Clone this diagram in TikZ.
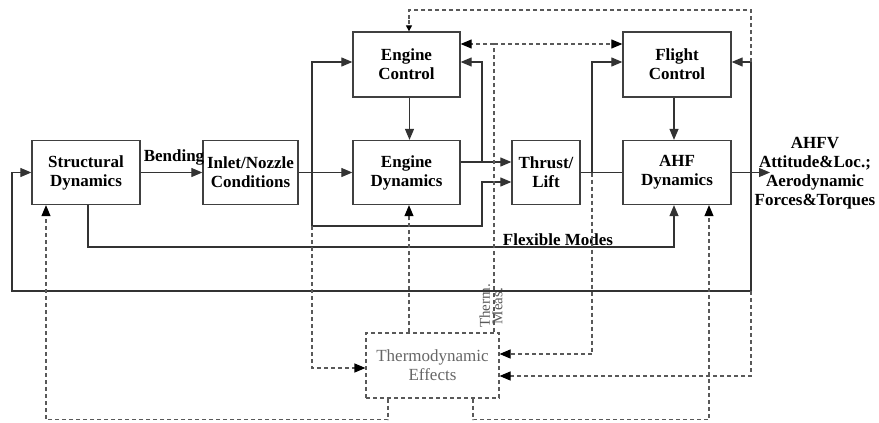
\documentclass[tikz,border=0pt]{standalone}
\usepackage{fontspec}
\setmainfont{Liberation Serif}[BoldFont={Liberation Serif Bold}, ItalicFont={Liberation Serif Italic}]
\usetikzlibrary{arrows.meta,calc}
\begin{document}
\begin{tikzpicture}[x=1pt,y=-1pt,
  wire/.style={draw=black!80, line width=1.2pt},
  arr/.style={wire, -{Triangle[length=11pt,width=9pt]}},
  dline/.style={draw=black!65, line width=1.1pt, dash pattern=on 4pt off 3pt},
  darr/.style={dline, -{Triangle[length=11pt,width=9pt,color=black]}},
  blk/.style={draw=black!75, line width=1.3pt, minimum width=#1, minimum height=64pt,
    align=center, inner sep=0pt, font=\fontsize{17}{19}\selectfont\bfseries},
  thbox/.style={draw=black!65, line width=1.1pt, dash pattern=on 4pt off 3pt,
    minimum width=133pt, minimum height=65pt, align=center, inner sep=0pt,
    text=black!60, font=\fontsize{17}{19}\selectfont},
  lbl/.style={inner sep=0pt, font=\fontsize{17}{19}\selectfont\bfseries},
  glbl/.style={inner sep=0pt, text=black!65, font=\fontsize{15}{12.5}\selectfont}
]
\useasboundingbox (0,0) rectangle (879,423);

% blocks
\node[blk=108pt] (sd)  at (86,172.5)    {Structural\\Dynamics};
\node[blk=95pt]  (inl) at (250.5,172.5) {Inlet/Nozzle\\Conditions};
\node[blk=107pt, minimum height=65pt] (ec) at (406.5,64.5) {Engine\\Control};
\node[blk=107pt] (ed)  at (406.5,172.5) {Engine\\Dynamics};
\node[blk=68pt]  (tl)  at (546,172.5)   {Thrust/\\Lift};
\node[blk=108pt, minimum height=65pt] (fc) at (677,64.5) {Flight\\Control};
\node[blk=108pt] (ahf) at (677,172.5)   {AHF\\Dynamics};
\node[thbox]     (th)  at (432.5,365.5) {Thermodynamic\\Effects};

% labels
\node[lbl] (bend) at (174,157) {Bending};
\node[lbl] (flex) at (558,240) {Flexible Modes};
\node[lbl, align=center] (outtxt) at (815,173.5)
  {AHFV\\Attitude\&Loc.;\\Aerodynamic\\Forces\&Torques};
\node[glbl, rotate=90, align=center] (meas) at (491,306) {Therm.\\Meas.};

% junctions and ports
\coordinate (jA) at (312,172.5);
\coordinate (jB) at (482,162);
\coordinate (jC) at (592,172.5);
\coordinate (jD) at (751,172.5);
\coordinate (jE) at (751,62);
\coordinate (jF) at (312,226);
\coordinate (jG) at (751,291);
\coordinate (jH) at (494,44);
\coordinate (fm) at (0,247);
\coordinate (out) at (770,172.5);
\coordinate (ecW)  at ([yshift=2.5pt]ec.west);
\coordinate (ecE)  at ([yshift=2.5pt]ec.east);
\coordinate (ecE2) at ([yshift=20.5pt]ec.east);
\coordinate (fcW)  at ([yshift=2.5pt]fc.west);
\coordinate (fcW2) at ([yshift=20.5pt]fc.west);
\coordinate (fcE)  at ([yshift=2.5pt]fc.east);
\coordinate (edO)  at ([yshift=10.5pt]ed.east);
\coordinate (tlA)  at ([yshift=10.5pt]tl.west);
\coordinate (tlB)  at ([yshift=-9.5pt]tl.west);
\coordinate (ecS)  at ([xshift=3pt]ec.south);
\coordinate (edN)  at ([xshift=3pt]ed.north);
\coordinate (ecN)  at ([xshift=2.5pt]ec.north);
\coordinate (edS)  at ([xshift=2.5pt]ed.south);
\coordinate (fcS)  at ([xshift=-3pt]fc.south);
\coordinate (ahfN) at ([xshift=-3pt]ahf.north);
\coordinate (ahfS) at ([xshift=-3pt]ahf.south);
\coordinate (ahfS2) at ([xshift=32pt]ahf.south);
\coordinate (sdS)  at ([xshift=2pt]sd.south);
\coordinate (sdS2) at ([xshift=-40pt]sd.south);
\coordinate (thN1) at ([xshift=-23.5pt]th.north);
\coordinate (thN2) at ([xshift=61.5pt]th.north);
\coordinate (thS1) at ([xshift=-44.5pt]th.south);
\coordinate (thS2) at ([xshift=40.5pt]th.south);
\coordinate (thW)  at ([yshift=-2.5pt]th.west);
\coordinate (thE1) at ([yshift=11.5pt]th.east);
\coordinate (thE2) at ([yshift=-10.5pt]th.east);

% solid signal paths
\draw[arr] (sd) -- (inl);
\draw[arr] (inl) -- (ed);
\draw[arr] (jA) |- (ecW);
\draw[arr] (jA) |- (482,226) |- (tlB);
\draw[arr] (ecS) -- (edN);
\draw[arr] (edO) -- (tlA);
\draw[arr] (jB) |- (ecE);
\draw[wire] (tl) -- (ahf);
\draw[arr] (jC) |- (fcW);
\draw[arr] (fcS) -- (ahfN);
\draw[arr] (ahf) -- (out);
\draw[arr] (jD) |- (fcE);
\draw[arr] (jD) |- (12,291) |- (sd.west);
\draw[arr] (sdS) |- (ahfS |- fm) -- (ahfS);

% thermal (dashed) paths
\draw[dline] (jE) |- (409,10) -- (409,20);
\draw[dline, -{Triangle[length=6pt,width=6pt,color=black]}] (409,20) -- (ecN);
\draw[dline] (thN2) -- (jH);
\draw[darr] (jH) -- (ecE2);
\draw[darr] (jH) -- (fcW2);
\draw[darr] (thN1) -- (edS);
\draw[darr] (jF) |- (thW);
\draw[darr] (jC) |- (thE1);
\draw[darr] (jG) |- (thE2);
\draw[darr] (thS2) -- ++(0,21) -| (ahfS2);
\draw[darr] (thS1) -- ++(0,21) -| (sdS2);
\end{tikzpicture}
\end{document}
